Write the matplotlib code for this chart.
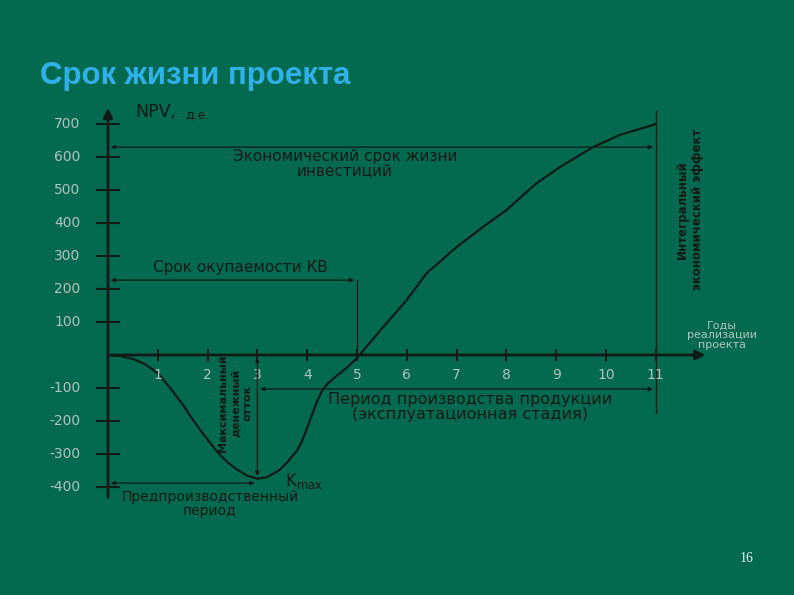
import matplotlib.pyplot as plt

plt.rcParams['font.family'] = ['DejaVu Sans']

BG = "#036a50"
INK = "#111a16"
LABEL = "#b4c2bc"

years = [0, 0.25, 0.5, 0.75, 1.0, 1.25, 1.5, 1.7, 1.9, 2.2, 2.4, 2.6, 2.8, 3.0, 3.2,
         3.45, 3.6, 3.8, 3.9, 4.05, 4.2, 4.3, 4.4, 4.6, 4.8, 4.96, 5.05, 5.5, 6.0, 6.4,
         7.0, 7.53, 8.0, 8.6, 9.08, 9.74, 10.28, 10.94, 11.0]
npv = [0, -3, -12, -28, -55, -100, -150, -195, -237, -295, -325, -348, -366, -375, -370,
       -348, -325, -288, -260, -200, -140, -108, -88, -62, -38, -15, 0, 80, 167, 248,
       327, 388, 439, 520, 570, 630, 667, 697, 700]

y_ticks = [700, 600, 500, 400, 300, 200, 100, -100, -200, -300, -400]
x_ticks = list(range(1, 12))

payback_year = 5
max_outflow_year = 3
k_max = -375
life_end = 11
econ_life_level = 630
payback_level = 227
production_level = -103
preprod_level = -388

fig = plt.figure(figsize=(7.94, 5.95), dpi=100, facecolor=BG)
ax = fig.add_axes([0, 0, 1, 1])
ax.set_facecolor(BG)
ax.set_xlim(-108 / 49.8, (794 - 108) / 49.8)
ax.set_ylim((355 - 595) / 0.33, 355 / 0.33)
ax.axis('off')

fig.text(0.05, 0.873, "Срок жизни проекта", fontsize=22.5, fontweight='bold',
         color="#2fb0e8", va='center', ha='left', family='Liberation Sans')
fig.text(0.941, 0.062, "16", fontsize=10, color="#e8f0ec", family='Liberation Serif',
         ha='center', va='center')

# axes with arrows
ax.annotate("", xy=(0, 757), xytext=(0, -440),
            arrowprops=dict(arrowstyle='-|>', lw=2, color=INK, mutation_scale=14))
ax.annotate("", xy=(12.05, 0), xytext=(0, 0),
            arrowprops=dict(arrowstyle='-|>', lw=2, color=INK, mutation_scale=14))

for v in y_ticks:
    ax.plot([-0.22, 0.22], [v, v], color=INK, lw=1.5)
    ax.text(-0.55, v, str(v), ha='right', va='center', fontsize=10, color=LABEL)
for x in x_ticks:
    ax.plot([x, x], [-14, 14], color=INK, lw=1.5)
    ax.text(x, -60, str(x), ha='center', va='center', fontsize=10, color=LABEL)

ax.plot(years, npv, color=INK, lw=1.6)

arrow = dict(arrowstyle='<|-|>', lw=0.9, color=INK, mutation_scale=6)

# economic life of investments
ax.annotate("", xy=(0, econ_life_level), xytext=(life_end, econ_life_level), arrowprops=arrow)
ax.text(4.76, 580, "Экономический срок жизни\nинвестиций", ha='center', va='center',
        fontsize=11, color=INK, linespacing=1.0)

# payback period
ax.annotate("", xy=(0, payback_level), xytext=(payback_year, payback_level), arrowprops=arrow)
ax.plot([payback_year, payback_year], [payback_level, 0], color=INK, lw=0.9)
ax.text(2.65, 264, "Срок окупаемости КВ", ha='center', va='center', fontsize=11, color=INK)

# integral effect
ax.plot([life_end, life_end], [740, -175], color=INK, lw=1.0)
ax.text(11.69, 440, "Интегральный\nэкономический эффект", rotation=90, ha='center',
        va='center', fontsize=8.5, color=INK, linespacing=1.2, fontweight='bold')

ax.text(12.33, 60, "Годы\nреализации\nпроекта", ha='center', va='center', fontsize=8,
        color=LABEL, linespacing=1.0)

# production period
ax.annotate("", xy=(max_outflow_year, production_level), xytext=(life_end, production_level),
            arrowprops=arrow)
ax.text(7.27, -158, "Период производства продукции\n(эксплуатационная стадия)",
        ha='center', va='center', fontsize=11.5, color=INK, linespacing=1.0)

# maximum cash outflow
ax.annotate("", xy=(max_outflow_year, 0), xytext=(max_outflow_year, k_max), arrowprops=arrow)
ax.text(2.56, -145, "Максимальный\nденежный\nотток", rotation=90, ha='center', va='center',
        fontsize=8, color=INK, fontweight='bold', linespacing=1.25)

# pre-production period
ax.annotate("", xy=(0, preprod_level), xytext=(max_outflow_year, preprod_level), arrowprops=arrow)
ax.text(2.05, -452, "Предпроизводственный\nпериод", ha='center', va='center', fontsize=10,
        color=INK, linespacing=1.0)

ax.text(3.55, -382, r"$\mathregular{K_{max}}$", ha='left', va='center', fontsize=12, color=INK)

ax.text(0.54, 735, "NPV,", ha='left', va='center', fontsize=12.5, color=INK)
ax.text(1.55, 728, "д.е.", ha='left', va='center', fontsize=9, color=INK)

fig.savefig("out.png", dpi=100, facecolor=BG)
